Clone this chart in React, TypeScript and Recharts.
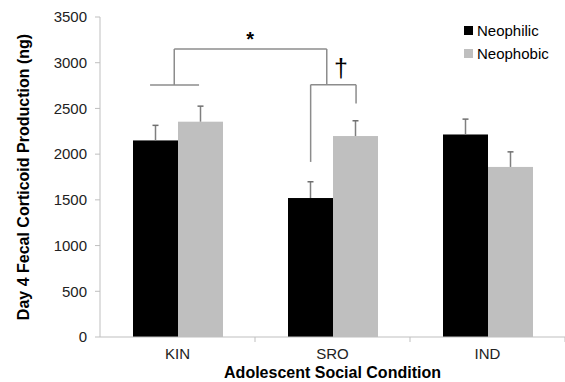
import React from 'react';
import { BarChart, Bar, XAxis, YAxis, ReferenceLine, ReferenceDot } from 'recharts';

const conditions = ['KIN', 'SRO', 'IND'];
const neophilic = [2150, 1520, 2215];
const neophilicErr = [165, 178, 168];
const neophobic = [2355, 2198, 1860];
const neophobicErr = [170, 167, 165];
const yTicks = [0, 500, 1000, 1500, 2000, 2500, 3000, 3500];
const xTicks = [0, 0.5, 1, 1.5, 2, 2.5, 3];

// significance brackets, x in category units (0..3), y in ng
const brackets: [number, number, number, number][] = [
  [0.323, 2755, 0.639, 2755],
  [0.479, 2755, 0.479, 3150],
  [0.479, 3150, 1.463, 3150],
  [1.463, 3150, 1.463, 2760],
  [1.359, 2760, 1.652, 2760],
  [1.359, 2760, 1.359, 1915],
  [1.652, 2760, 1.652, 2555],
];
const marks = [
  { x: 0.968, y: 3265, text: '*', weight: 'bold', size: 20 },
  { x: 1.555, y: 2945, text: '†', weight: 'normal', size: 25 },
];

const data = conditions.map((c, i) => ({
  name: c,
  pos: i + 0.5,
  neophilic: neophilic[i],
  neophilicErr: neophilicErr[i],
  neophobic: neophobic[i],
  neophobicErr: neophobicErr[i],
}));

const FONT = 'Arial, "Liberation Sans", sans-serif';

// bar with an upward-only error whisker (scale taken from the bar's own height/value)
const barWithErr = (errKey: string) => (props: any) => {
  const { x, y, width, height, fill, value, payload } = props;
  const v = Array.isArray(value) ? value[1] - value[0] : value;
  const errPx = v ? (payload[errKey] * height) / v : 0;
  const cx = x + width / 2;
  return (
    <g>
      <rect x={x} y={y} width={width} height={height} fill={fill} />
      <line x1={cx} x2={cx} y1={y} y2={y - errPx} stroke="#7f7f7f" strokeWidth={1.5} />
      <line x1={cx - 3} x2={cx + 3} y1={y - errPx} y2={y - errPx} stroke="#6f6f6f" strokeWidth={1.5} />
    </g>
  );
};

// integer positions get a boundary tick mark, half positions get the category name
const XTick = (props: any) => {
  const { x, y, payload } = props;
  const v = payload.value;
  if (Number.isInteger(v)) {
    if (v === 0) return null;
    return <line x1={x} x2={x} y1={y} y2={y + 5} stroke="#bfbfbf" />;
  }
  return (
    <text x={x} y={y + 16} textAnchor="middle" dominantBaseline="central" fill="#222" fontSize={15} fontFamily={FONT}>
      {conditions[Math.floor(v)]}
    </text>
  );
};

const App: React.FC = () => {
  return (
    <div style={{ position: 'absolute', left: 0, top: 0, width: 565, height: 382, background: '#fff' }}>
      <BarChart
        width={565}
        height={382}
        data={data}
        margin={{ top: 17, right: 0, left: 0, bottom: 0 }}
        barGap={0}
        barSize={45}
      >
        <XAxis
          dataKey="pos"
          type="number"
          domain={[0, 3]}
          ticks={xTicks}
          interval={0}
          allowDataOverflow
          axisLine={{ stroke: '#bfbfbf' }}
          tickLine={false}
          tickSize={0}
          tickMargin={0}
          tick={<XTick />}
          height={45}
          label={{ value: 'Adolescent Social Condition', position: 'insideBottom', offset: 4, fill: '#000', fontSize: 16, fontWeight: 'bold', fontFamily: FONT }}
        />
        <YAxis
          domain={[0, 3500]}
          ticks={yTicks}
          width={100}
          axisLine={{ stroke: '#bfbfbf' }}
          tickLine={{ stroke: '#bfbfbf' }}
          tickSize={5}
          tickMargin={8}
          tick={{ fill: '#222', fontSize: 15, fontFamily: FONT }}
          label={{ value: 'Day 4 Fecal Corticoid Production (ng)', angle: -90, position: 'insideLeft', offset: 23, style: { textAnchor: 'middle' }, fill: '#000', fontSize: 16, fontWeight: 'bold', fontFamily: FONT }}
        />
        <Bar dataKey="neophilic" name="Neophilic" fill="#000" isAnimationActive={false} shape={barWithErr('neophilicErr')} />
        <Bar dataKey="neophobic" name="Neophobic" fill="#bfbfbf" isAnimationActive={false} shape={barWithErr('neophobicErr')} />
        {brackets.map((b, i) => (
          <ReferenceLine
            key={i}
            segment={[{ x: b[0], y: b[1] }, { x: b[2], y: b[3] }]}
            stroke="#8c8c8c"
            strokeWidth={1.5}
          />
        ))}
        {marks.map((m, i) => (
          <ReferenceDot
            key={i}
            x={m.x}
            y={m.y}
            r={1}
            fill="none"
            stroke="none"
            label={{ value: m.text, position: 'center', fill: '#000', fontSize: m.size, fontWeight: m.weight, fontFamily: FONT }}
          />
        ))}
      </BarChart>
      <div style={{ position: 'absolute', left: 464, top: 19, fontFamily: FONT, fontSize: 15, color: '#000' }}>
        <div style={{ display: 'flex', alignItems: 'center', height: 23 }}>
          <div style={{ width: 9, height: 9, background: '#000', marginRight: 4 }} />Neophilic
        </div>
        <div style={{ display: 'flex', alignItems: 'center', height: 23 }}>
          <div style={{ width: 9, height: 9, background: '#bfbfbf', marginRight: 4 }} />Neophobic
        </div>
      </div>
    </div>
  );
};

export default App;
